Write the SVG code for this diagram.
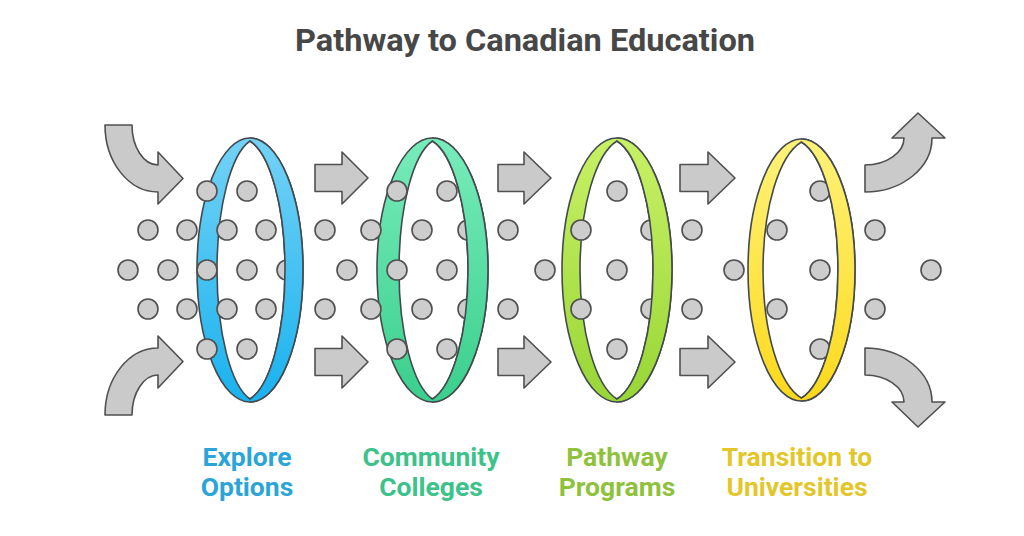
<svg xmlns="http://www.w3.org/2000/svg" width="1024" height="536" viewBox="0 0 1024 536">
  <defs>
    <linearGradient id="gBlue" x1="0" y1="0" x2="0" y2="1">
      <stop offset="0" stop-color="#74d2f6"/>
      <stop offset="1" stop-color="#19b2ef"/>
    </linearGradient>
    <linearGradient id="gGreen" x1="0" y1="0" x2="0" y2="1">
      <stop offset="0" stop-color="#78ecbb"/>
      <stop offset="1" stop-color="#3acf8c"/>
    </linearGradient>
    <linearGradient id="gLime" x1="0" y1="0" x2="0" y2="1">
      <stop offset="0" stop-color="#c8f166"/>
      <stop offset="1" stop-color="#98d636"/>
    </linearGradient>
    <linearGradient id="gYellow" x1="0" y1="0" x2="0" y2="1">
      <stop offset="0" stop-color="#fff27a"/>
      <stop offset="1" stop-color="#fdd91c"/>
    </linearGradient>
    <style>
      .band { stroke: #434a4d; stroke-width: 1.6; stroke-linejoin: round; }
      .hole { fill: #ffffff; stroke: #434a4d; stroke-width: 1.6; stroke-linejoin: round; }
      .edge { fill: none; stroke: #434a4d; stroke-width: 1.6; stroke-linecap: round; }
      .dot { fill: #cdcdcd; stroke: #505050; stroke-width: 1.6; }
      .arrow { fill: #cacaca; stroke: #505050; stroke-width: 1.6; stroke-linejoin: round; }
      .title { font-family: Roboto, "Liberation Sans", sans-serif; font-weight: 700; font-size: 31px; fill: #474747; text-anchor: middle; }
      .label { font-family: Roboto, "Liberation Sans", sans-serif; font-weight: 700; font-size: 26.5px; text-anchor: middle; }
    </style>
  </defs>
  <rect width="1024" height="536" fill="#ffffff"/>

  <text class="title" x="525" y="51" textLength="460" lengthAdjust="spacingAndGlyphs">Pathway to Canadian Education</text>

  <g id="connectors">
    <path class="arrow" d="M105,125 H132 C132,147 143.6,165 158,165 V152 L183,178.5 L158,204 V192 C128.7,192 105,162 105,125 Z"/>
    <path class="arrow" d="M105,415 H132 C132,393 143.6,375 158,375 V388 L183,361.5 L158,336 V348 C128.7,348 105,378 105,415 Z"/>
    <path class="arrow" d="M315,164.5 H342 V152 L368,178 L342,204 V191.5 H315 Z"/>
    <path class="arrow" d="M315,348.5 H342 V336 L368,362 L342,388 V375.5 H315 Z"/>
    <path class="arrow" d="M498,164.5 H524 V152 L551,178 L524,204 V191.5 H498 Z"/>
    <path class="arrow" d="M498,348.5 H524 V336 L551,362 L524,388 V375.5 H498 Z"/>
    <path class="arrow" d="M680,164.5 H708 V152 L735,178 L708,204 V191.5 H680 Z"/>
    <path class="arrow" d="M680,348.5 H708 V336 L735,362 L708,388 V375.5 H680 Z"/>
    <path class="arrow" d="M865,192 V165 C886,165 904,153 904,138 H892 L918,113 L945,138 H932 C932,168 902,192 865,192 Z"/>
    <path class="arrow" d="M865,348 V375 C886,375 904,387 904,402 H892 L918,427 L945,402 H932 C932,372 902,348 865,348 Z"/>
  </g>

  <g id="explore-options">
    <ellipse class="band" fill="url(#gBlue)" cx="250" cy="270" rx="53" ry="132"/>
    <path class="hole" d="M250,141 A41.88,132 0 0 0 250,399 A44.42,132 0 0 0 250,141 Z"/>
    <circle class="dot" cx="207" cy="191" r="10"/>
    <circle class="dot" cx="247" cy="191" r="10"/>
    <circle class="dot" cx="148" cy="230" r="10"/>
    <circle class="dot" cx="187" cy="230" r="10"/>
    <circle class="dot" cx="227" cy="230" r="10"/>
    <circle class="dot" cx="266" cy="230" r="10"/>
    <circle class="dot" cx="128" cy="270" r="10"/>
    <circle class="dot" cx="168" cy="270" r="10"/>
    <circle class="dot" cx="207" cy="270" r="10"/>
    <circle class="dot" cx="247" cy="270" r="10"/>
    <circle class="dot" cx="287" cy="270" r="10"/>
    <circle class="dot" cx="148" cy="309" r="10"/>
    <circle class="dot" cx="187" cy="309" r="10"/>
    <circle class="dot" cx="227" cy="309" r="10"/>
    <circle class="dot" cx="266" cy="309" r="10"/>
    <circle class="dot" cx="207" cy="349" r="10"/>
    <circle class="dot" cx="247" cy="349" r="10"/>
    <path fill="url(#gBlue)" d="M250,138 A53,132 0 0 1 250,402 L250,399 A44.42,132 0 0 0 250,141 Z"/>
    <path class="edge" d="M250,138 A53,132 0 0 1 250,402 M250,399 A44.42,132 0 0 0 250,141"/>
    <text class="label" fill="#2ba5d8" x="247" y="466">Explore</text>
    <text class="label" fill="#2ba5d8" x="247" y="496">Options</text>
  </g>

  <g id="community-colleges">
    <ellipse class="band" fill="url(#gGreen)" cx="432.5" cy="270" rx="55.5" ry="132"/>
    <path class="hole" d="M432.5,141 A42.51,132 0 0 0 432.5,399 A45.05,132 0 0 0 432.5,141 Z"/>
    <circle class="dot" cx="325" cy="230" r="10"/>
    <circle class="dot" cx="325" cy="309" r="10"/>
    <circle class="dot" cx="347" cy="270" r="10"/>
    <circle class="dot" cx="371" cy="230" r="10"/>
    <circle class="dot" cx="371" cy="309" r="10"/>
    <circle class="dot" cx="397" cy="191" r="10"/>
    <circle class="dot" cx="447" cy="191" r="10"/>
    <circle class="dot" cx="422" cy="230" r="10"/>
    <circle class="dot" cx="468" cy="230" r="10"/>
    <circle class="dot" cx="397" cy="270" r="10"/>
    <circle class="dot" cx="447" cy="270" r="10"/>
    <circle class="dot" cx="422" cy="309" r="10"/>
    <circle class="dot" cx="468" cy="309" r="10"/>
    <circle class="dot" cx="397" cy="349" r="10"/>
    <circle class="dot" cx="447" cy="349" r="10"/>
    <path fill="url(#gGreen)" d="M432.5,138 A55.5,132 0 0 1 432.5,402 L432.5,399 A45.05,132 0 0 0 432.5,141 Z"/>
    <path class="edge" d="M432.5,138 A55.5,132 0 0 1 432.5,402 M432.5,399 A45.05,132 0 0 0 432.5,141"/>
    <text class="label" fill="#3cc28a" x="431" y="466">Community</text>
    <text class="label" fill="#3cc28a" x="431" y="496">Colleges</text>
  </g>

  <g id="pathway-programs">
    <ellipse class="band" fill="url(#gLime)" cx="617" cy="270" rx="55" ry="132"/>
    <path class="hole" d="M617,141 A46.95,132 0 0 0 617,399 A45.69,132 0 0 0 617,141 Z"/>
    <circle class="dot" cx="508" cy="230" r="10"/>
    <circle class="dot" cx="508" cy="309" r="10"/>
    <circle class="dot" cx="545" cy="270" r="10"/>
    <circle class="dot" cx="617" cy="191" r="10"/>
    <circle class="dot" cx="581" cy="230" r="10"/>
    <circle class="dot" cx="651" cy="230" r="10"/>
    <circle class="dot" cx="617" cy="270" r="10"/>
    <circle class="dot" cx="581" cy="309" r="10"/>
    <circle class="dot" cx="651" cy="309" r="10"/>
    <circle class="dot" cx="617" cy="349" r="10"/>
    <circle class="dot" cx="692" cy="230" r="10"/>
    <circle class="dot" cx="692" cy="309" r="10"/>
    <path fill="url(#gLime)" d="M617,138 A55,132 0 0 1 617,402 L617,399 A45.69,132 0 0 0 617,141 Z"/>
    <path class="edge" d="M617,138 A55,132 0 0 1 617,402 M617,399 A45.69,132 0 0 0 617,141"/>
    <text class="label" fill="#8fc23c" x="617" y="466">Pathway</text>
    <text class="label" fill="#8fc23c" x="617" y="496">Programs</text>
  </g>

  <g id="transition-universities">
    <ellipse class="band" fill="url(#gYellow)" cx="801.5" cy="270" rx="53.5" ry="131"/>
    <path class="hole" d="M801.5,142 A48.86,131 0 0 0 801.5,398 A46.32,131 0 0 0 801.5,142 Z"/>
    <circle class="dot" cx="734" cy="270" r="10"/>
    <circle class="dot" cx="777" cy="230" r="10"/>
    <circle class="dot" cx="777" cy="309" r="10"/>
    <circle class="dot" cx="820" cy="191" r="10"/>
    <circle class="dot" cx="820" cy="270" r="10"/>
    <circle class="dot" cx="820" cy="349" r="10"/>
    <path fill="url(#gYellow)" d="M801.5,139 A53.5,131 0 0 1 801.5,401 L801.5,398 A46.32,131 0 0 0 801.5,142 Z"/>
    <path class="edge" d="M801.5,139 A53.5,131 0 0 1 801.5,401 M801.5,398 A46.32,131 0 0 0 801.5,142"/>
    <circle class="dot" cx="875" cy="230" r="10"/>
    <circle class="dot" cx="875" cy="309" r="10"/>
    <circle class="dot" cx="931" cy="270" r="10"/>
    <text class="label" fill="#e3c72a" x="797" y="466">Transition to</text>
    <text class="label" fill="#e3c72a" x="797" y="496">Universities</text>
  </g>
</svg>
